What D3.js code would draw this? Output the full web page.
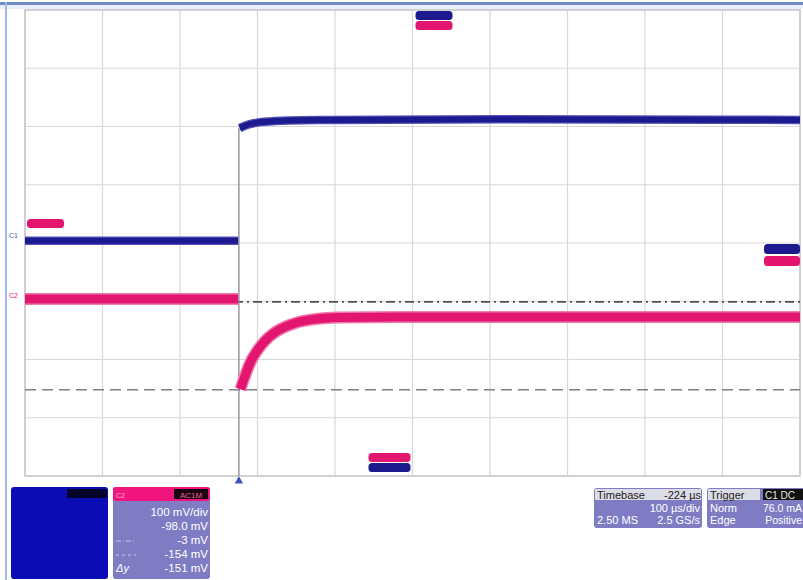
<!DOCTYPE html>
<html>
<head>
<meta charset="utf-8">
<script src="https://cdn.jsdelivr.net/npm/d3@7"></script>
<style>
body { margin: 0; background: #fff; }
svg { display: block; font-family: "Liberation Sans", Arial, sans-serif; }
</style>
</head>
<body>
<script>
// time in µs from the trigger, C1 in mA, C2 in mV
let timeRange = [-276, 724];
let c1Pre = [[-276, 2], [-1, 2]];
let c1Post = [[1, 98.7], [14, 102], [33, 104], [65, 105.2], [117, 105.6], [336, 106.3], [724, 105.6]];
let c2Pre = [[-276, 2], [-1, 2]];
let c2Post = [[2, -153], [8, -130], [14, -109], [23, -88], [33, -71], [46, -56], [65, -43], [91, -34], [130, -30], [207, -29], [724, -29]];
let cursorLevels = [-3, -154];
let c2Lines = ["100 mV/div", "-98.0 mV", "-3 mV", "-154 mV", "-151 mV"];
let timebaseLines = [["", "100 µs/div"], ["2.50 MS", "2.5 GS/s"]];
let triggerLines = [["Norm", "76.0 mA"], ["Edge", "Positive"]];

const W = 803, H = 580;
const blue = "#1c1a8e", pink = "#e3166f";

let svg = d3.select("body").append("svg").attr("width", W).attr("height", H);

// window frame
svg.append("rect").attr("x", 0).attr("y", 2).attr("width", W).attr("height", 3).attr("fill", "#6f8cc8");
svg.append("rect").attr("x", 0).attr("y", 5).attr("width", W).attr("height", 4).attr("fill", "#e8eef8");
svg.append("rect").attr("x", 5).attr("y", 2).attr("width", 2).attr("height", H).attr("fill", "#9fb8e6");

let x = d3.scaleLinear().domain(timeRange).range([25, 800]);
let yC2 = d3.scaleLinear().domain([-302, 498]).range([476, 10]); // 100 mV/div, offset -98 mV
let yC1 = d3.scaleLinear().domain([-200, 200]).range([476, 10]); // 50 mA/div

// grid
let grid = svg.append("g");
grid.selectAll("line.v").data(d3.range(timeRange[0], timeRange[1] + 1, 100)).enter().append("line")
  .attr("x1", d => x(d)).attr("x2", d => x(d)).attr("y1", 10).attr("y2", 476)
  .attr("stroke", "#d8d8d8").attr("stroke-width", 1.2);
grid.selectAll("line.h").data(d3.range(-302, 499, 100)).enter().append("line")
  .attr("y1", d => yC2(d)).attr("y2", d => yC2(d)).attr("x1", 25).attr("x2", 800)
  .attr("stroke", "#d8d8d8").attr("stroke-width", 1.2);
grid.append("rect").attr("x", 25).attr("y", 10).attr("width", 775).attr("height", 466)
  .attr("fill", "none").attr("stroke", "#c8c8cc").attr("stroke-width", 1.5);

// cursors on C2
svg.append("line").attr("x1", 25).attr("x2", 800)
  .attr("y1", yC2(cursorLevels[0])).attr("y2", yC2(cursorLevels[0]))
  .attr("stroke", "#505050").attr("stroke-width", 1.6).attr("stroke-dasharray", "9,4,2,4");
svg.append("line").attr("x1", 25).attr("x2", 800)
  .attr("y1", yC2(cursorLevels[1])).attr("y2", yC2(cursorLevels[1]))
  .attr("stroke", "#808080").attr("stroke-width", 1.6).attr("stroke-dasharray", "11,6");

// trigger line
svg.append("line").attr("x1", x(0)).attr("x2", x(0)).attr("y1", yC1(c1Post[0][1])).attr("y2", 476)
  .attr("stroke", "#8a8494").attr("stroke-width", 1.3);
svg.append("path").attr("d", d3.symbol(d3.symbolTriangle, 30)).attr("fill", "#3a4fc0")
  .attr("transform", `translate(${x(0)},481)`);

// traces
let line1 = d3.line().x(d => x(d[0])).y(d => yC1(d[1])).curve(d3.curveMonotoneX);
let line2 = d3.line().x(d => x(d[0])).y(d => yC2(d[1])).curve(d3.curveMonotoneX);
[c2Pre, c2Post].forEach(s => {
  svg.append("path").attr("d", line2(s)).attr("fill", "none").attr("stroke", "#f07aac").attr("stroke-width", 12);
  svg.append("path").attr("d", line2(s)).attr("fill", "none").attr("stroke", pink).attr("stroke-width", 9);
});
[c1Pre, c1Post].forEach(s => {
  svg.append("path").attr("d", line1(s)).attr("fill", "none").attr("stroke", "#5250b4").attr("stroke-width", 8.5);
  svg.append("path").attr("d", line1(s)).attr("fill", "none").attr("stroke", blue).attr("stroke-width", 6);
});

// channel tags on the left
svg.append("text").attr("x", 9).attr("y", yC1(2) - 3).attr("font-size", 7).attr("fill", "#4a5aa0").text("C1");
svg.append("text").attr("x", 9).attr("y", yC2(2) - 1).attr("font-size", 7).attr("fill", pink).text("C2");

// markers
function marker(x0, y0, w, h, c) {
  svg.append("rect").attr("x", x0).attr("y", y0).attr("width", w).attr("height", h)
    .attr("rx", 3.5).attr("fill", c);
}
marker(x(224) + 3, 11, 37, 9, blue);
marker(x(224) + 3, 21, 37, 9, pink);
marker(x(224) - 44, 453, 42, 9, pink);
marker(x(224) - 44, 463, 42, 9, blue);
marker(764, 244, 36, 10, blue);
marker(764, 256, 36, 10, pink);
marker(27, 219, 37, 9, pink);

// C1 panel
svg.append("rect").attr("x", 11).attr("y", 487).attr("width", 97).attr("height", 92).attr("rx", 3).attr("fill", "#0c0cb4");
svg.append("rect").attr("x", 67).attr("y", 489).attr("width", 40).attr("height", 9).attr("fill", "#05052a");

// C2 panel
let p2 = svg.append("g");
p2.append("rect").attr("x", 113).attr("y", 487).attr("width", 97).attr("height", 92).attr("rx", 3).attr("fill", "#7f7cc4");
p2.append("rect").attr("x", 113).attr("y", 487).attr("width", 97).attr("height", 14).attr("rx", 3).attr("fill", "#f0157e");
p2.append("rect").attr("x", 174).attr("y", 489).attr("width", 34).attr("height", 10).attr("fill", "#1a0612");
p2.append("text").attr("x", 116).attr("y", 497.5).attr("font-size", 7).attr("fill", "#ffb0d0").text("C2");
p2.append("text").attr("x", 191).attr("y", 497.5).attr("font-size", 8).attr("fill", "#f06090").attr("text-anchor", "middle").text("AC1M");
p2.selectAll("text.v").data(c2Lines).enter().append("text")
  .attr("x", 208).attr("y", (d, i) => 516 + i * 14).attr("text-anchor", "end")
  .attr("font-size", 11.5).attr("fill", "#fff").text(d => d);
p2.append("line").attr("x1", 116).attr("x2", 136).attr("y1", 541).attr("y2", 541)
  .attr("stroke", "#c8c6ee").attr("stroke-dasharray", "5,2,1,2");
p2.append("line").attr("x1", 116).attr("x2", 136).attr("y1", 555).attr("y2", 555)
  .attr("stroke", "#c8c6ee").attr("stroke-dasharray", "3,3");
p2.append("text").attr("x", 116).attr("y", 572).attr("font-size", 11).attr("font-style", "italic").attr("fill", "#fff").text("Δy");

// Timebase panel
let tb = svg.append("g");
tb.append("rect").attr("x", 594).attr("y", 488).attr("width", 108).attr("height", 40).attr("rx", 3).attr("fill", "#7f7cc4");
tb.append("rect").attr("x", 595).attr("y", 489).attr("width", 106).attr("height", 11).attr("fill", "#dcdce6");
tb.append("text").attr("x", 597).attr("y", 498.5).attr("font-size", 11).attr("fill", "#222").text("Timebase");
tb.append("text").attr("x", 701).attr("y", 498.5).attr("font-size", 11).attr("fill", "#222").attr("text-anchor", "end").text("-224 µs");
timebaseLines.forEach((r, i) => {
  tb.append("text").attr("x", 597).attr("y", 512 + i * 12).attr("font-size", 11).attr("fill", "#fff").text(r[0]);
  tb.append("text").attr("x", 700).attr("y", 512 + i * 12).attr("font-size", 11).attr("fill", "#fff").attr("text-anchor", "end").text(r[1]);
});

// Trigger panel
let tg = svg.append("g");
tg.append("rect").attr("x", 707).attr("y", 488).attr("width", 100).attr("height", 40).attr("rx", 3).attr("fill", "#7f7cc4");
tg.append("rect").attr("x", 708).attr("y", 489).attr("width", 52).attr("height", 11).attr("fill", "#dcdce6");
tg.append("rect").attr("x", 763).attr("y", 489).attr("width", 40).attr("height", 11).attr("fill", "#111");
tg.append("text").attr("x", 710).attr("y", 498.5).attr("font-size", 11).attr("fill", "#222").text("Trigger");
tg.append("text").attr("x", 765).attr("y", 498.5).attr("font-size", 10).attr("fill", "#e8e8e8").text("C1 DC");
triggerLines.forEach((r, i) => {
  tg.append("text").attr("x", 710).attr("y", 512 + i * 12).attr("font-size", 11).attr("fill", "#fff").text(r[0]);
  tg.append("text").attr("x", 802).attr("y", 512 + i * 12).attr("font-size", 10.5).attr("fill", "#fff").attr("text-anchor", "end").text(r[1]);
});
</script>
</body>
</html>
